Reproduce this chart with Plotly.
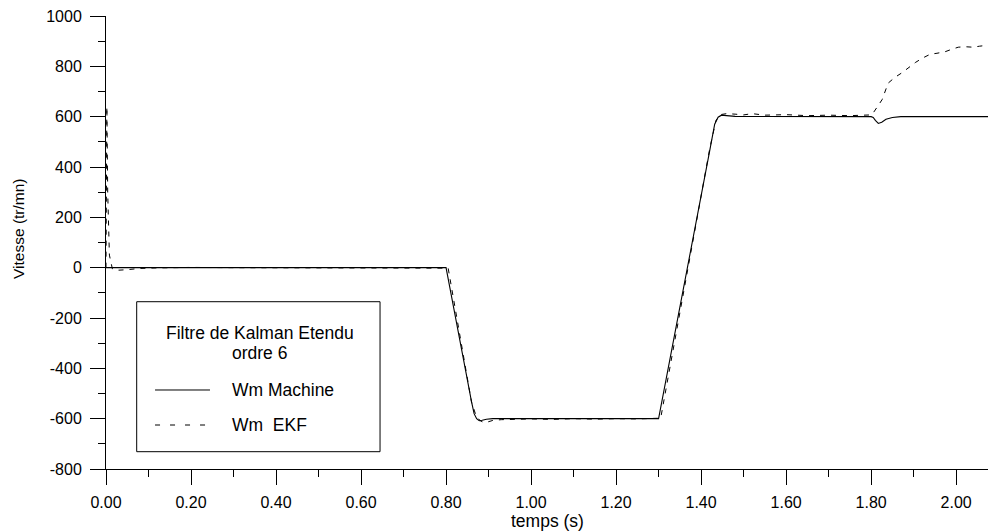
import plotly.graph_objects as go

# Wm Machine (solid)
t_machine = [0, 0.8, 0.86, 0.866, 0.872, 0.878, 0.885, 0.895, 0.91, 1.3, 1.42, 1.432, 1.44,
             1.448, 1.46, 1.48, 1.8, 1.805, 1.81, 1.817, 1.825, 1.835, 1.85, 1.87, 2.075]
w_machine = [0, 0, -533, -580, -600, -608, -606, -602, -600, -600, 462, 570, 598,
             606, 604, 601, 600, 597, 585, 573, 578, 590, 597, 600, 600]

# Wm EKF (dashed)
t_ekf = [0, 0.002, 0.004, 0.008, 0.015, 0.03, 0.05, 0.08, 0.12, 0.2, 0.3, 0.4, 0.5, 0.6, 0.7,
         0.8, 0.805, 0.86, 0.87, 0.88, 0.89, 0.9, 0.91, 0.93, 0.96, 1.0, 1.05, 1.1, 1.15, 1.2,
         1.25, 1.3, 1.305, 1.42, 1.435, 1.445, 1.46, 1.48, 1.5, 1.52, 1.55, 1.6, 1.65, 1.7,
         1.75, 1.8, 1.805, 1.815, 1.826, 1.84, 1.855, 1.873, 1.89, 1.904, 1.92, 1.939, 1.955,
         1.974, 1.99, 2.005, 2.02, 2.04, 2.055, 2.075]
w_ekf = [0, 640, 300, 50, -5, -10, -8, -3, -1, 1, 0, 0, 1, 0, 0,
         0, -2, -535, -585, -608, -616, -612, -607, -604, -602, -601, -603, -600, -602, -600,
         -601, -600, -598, 470, 585, 608, 612, 610, 607, 612, 606, 608, 604, 606,
         604, 607, 615, 640, 668, 733, 755, 775, 797, 815, 832, 848, 852,
         858, 868, 876, 878, 876, 880, 884]

x_ticks = [0, 0.2, 0.4, 0.6, 0.8, 1.0, 1.2, 1.4, 1.6, 1.8, 2.0]
y_ticks = [-800, -600, -400, -200, 0, 200, 400, 600, 800, 1000]
x_ticktext = ["%.2f" % v for v in x_ticks]
y_ticktext = [str(v) for v in y_ticks]

legend_title = ["Filtre de Kalman Etendu", "ordre 6"]
names = ["Wm Machine", "Wm  EKF"]
x_title = "temps (s)"
y_title = "Vitesse (tr/mn)"

FONT = "Liberation Sans, Arial, sans-serif"

fig = go.Figure()
fig.add_trace(go.Scatter(x=t_machine, y=w_machine, mode="lines", name=names[0],
                         line=dict(color="black", width=1.1), showlegend=False))
fig.add_trace(go.Scatter(x=t_ekf, y=w_ekf, mode="lines", name=names[1],
                         line=dict(color="black", width=1, dash="5px,6px"), showlegend=False))

fig.update_layout(
    width=988, height=531,
    margin=dict(l=106, r=0, t=16, b=62, autoexpand=False),
    paper_bgcolor="white", plot_bgcolor="white",
    font=dict(family=FONT, size=16, color="black"),
    xaxis=dict(range=[0, 2.075], tickvals=x_ticks, ticktext=x_ticktext, automargin=False,
               showgrid=False, zeroline=False, showline=True, linecolor="black", linewidth=1,
               ticks="outside", ticklen=15, tickwidth=1, tickcolor="black",
               ticklabelstandoff=4,
               minor=dict(dtick=0.1, tick0=0, ticks="outside", ticklen=7, tickcolor="black", tickwidth=1)),
    yaxis=dict(range=[-800, 1000], tickvals=y_ticks, ticktext=y_ticktext, automargin=False,
               showgrid=False, zeroline=False, showline=True, linecolor="black", linewidth=1,
               ticks="outside", ticklen=15, tickwidth=1, tickcolor="black",
               ticklabelstandoff=5,
               minor=dict(dtick=100, tick0=0, ticks="outside", ticklen=7, tickcolor="black", tickwidth=1)),
)

fig.add_annotation(xref="paper", yref="paper", x=0.5, y=-0.1148, text=x_title, showarrow=False,
                   font=dict(size=17.5), xanchor="center", yanchor="middle")
fig.add_annotation(xref="paper", yref="paper", x=-0.0998, y=0.532, text=y_title, showarrow=False,
                   textangle=-90, font=dict(size=15.5), xanchor="center", yanchor="middle")

# legend box
fig.add_shape(type="rect", xref="paper", yref="paper", x0=0.0348, x1=0.3107, y0=0.0382, y1=0.3693,
              line=dict(color="black", width=1), fillcolor="white", layer="above")
fig.add_annotation(xref="paper", yref="paper", x=0.1746, y=0.3002, text=legend_title[0],
                   showarrow=False, font=dict(size=17.5), xanchor="center", yanchor="middle")
fig.add_annotation(xref="paper", yref="paper", x=0.1746, y=0.2560, text=legend_title[1],
                   showarrow=False, font=dict(size=17.5), xanchor="center", yanchor="middle")
fig.add_shape(type="line", xref="paper", yref="paper", x0=0.0556, x1=0.1179, y0=0.1744, y1=0.1744,
              line=dict(color="black", width=1))
fig.add_shape(type="line", xref="paper", yref="paper", x0=0.0556, x1=0.1179, y0=0.0971, y1=0.0971,
              line=dict(color="black", width=1, dash="5px,10px"))
fig.add_annotation(xref="paper", yref="paper", x=0.1406, y=0.1744, text=names[0],
                   showarrow=False, font=dict(size=17.5), xanchor="left", yanchor="middle")
fig.add_annotation(xref="paper", yref="paper", x=0.1406, y=0.0971, text=names[1].replace("  ", "&nbsp; "),
                   showarrow=False, font=dict(size=17.5), xanchor="left", yanchor="middle")

# remove the default 8px page margin so the figure fills the window exactly
fig.write_html("out.html", config={"displayModeBar": False},
               post_script="document.body.style.margin='0';document.body.style.overflow='hidden';")
